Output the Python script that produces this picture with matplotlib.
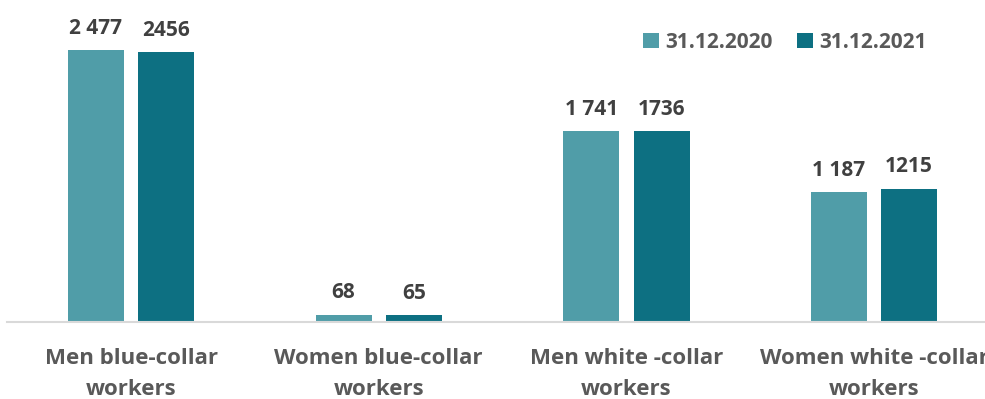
import matplotlib.pyplot as plt
import numpy as np

categories = ["Men blue-collar\nworkers", "Women blue-collar\nworkers",
              "Men white -collar\nworkers", "Women white -collar\nworkers"]
series_names = ["31.12.2020", "31.12.2021"]
values_2020 = [2477, 68, 1741, 1187]
values_2021 = [2456, 65, 1736, 1215]
labels_2020 = ["2 477", "68", "1 741", "1 187"]
labels_2021 = ["2456", "65", "1736", "1215"]

light = "#509DA8"
dark = "#0D7082"
text_dark = "#404040"
text_gray = "#595959"

plt.rcParams['font.family'] = ['Open Sans', 'DejaVu Sans']

fig = plt.figure(figsize=(9.85, 3.99), dpi=100)
# axes spans past the right edge, the reference is cropped there
ax = fig.add_axes([7.3 / 985, 77 / 399, 990.5 / 985, 322 / 399])

x = np.arange(len(categories))
w = 0.226
off = 0.142
b1 = ax.bar(x - off, values_2020, w, color=light, label=series_names[0])
b2 = ax.bar(x + off, values_2021, w, color=dark, label=series_names[1])

for bars, labs in [(b1, labels_2020), (b2, labels_2021)]:
    for bar, lab in zip(bars, labs):
        ax.annotate(lab, (bar.get_x() + bar.get_width() / 2, bar.get_height()),
                    xytext=(0, 8), textcoords='offset points', ha='center', va='bottom',
                    fontsize=15, fontweight='bold', color=text_dark)

ax.set_xlim(-0.5, 3.5)
ax.set_ylim(0, 2932)
ax.set_yticks([])
ax.set_xticks(x)
ax.set_xticklabels(categories, fontsize=16, fontweight='bold', color=text_gray,
                   linespacing=1.6)
ax.tick_params(axis='x', length=0, pad=19)
for s in ['top', 'right', 'left']:
    ax.spines[s].set_visible(False)
ax.spines['bottom'].set_color('#D9D9D9')
ax.spines['bottom'].set_linewidth(1.5)

leg = fig.legend(loc='center left', bbox_to_anchor=(643 / 985, 1 - 42 / 399), ncol=2,
                 frameon=False, fontsize=15, handlelength=0.75, handleheight=0.75,
                 handletextpad=0.3, columnspacing=1.2, borderaxespad=0, borderpad=0)
for t in leg.get_texts():
    t.set_color(text_gray)
    t.set_fontweight('bold')

fig.savefig("out.png", dpi=100)
